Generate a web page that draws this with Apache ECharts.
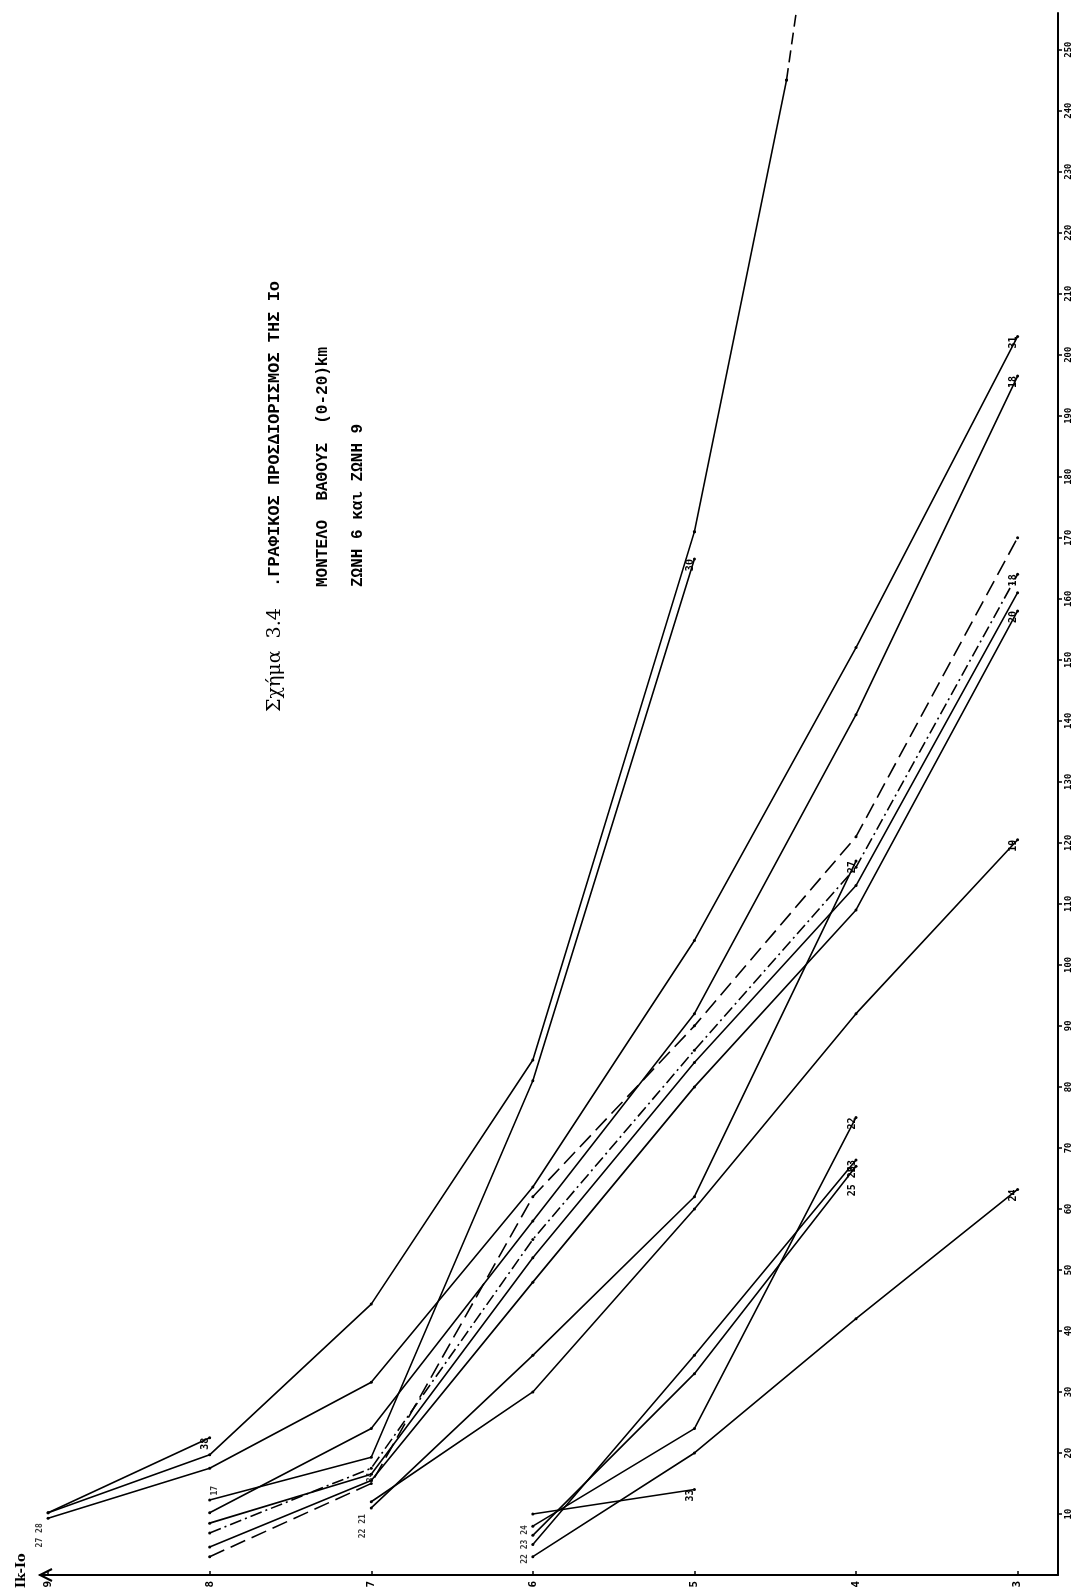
<!DOCTYPE html>
<html>
<head>
<meta charset="utf-8">
<script src="https://cdn.jsdelivr.net/npm/echarts@6/dist/echarts.min.js"></script>
<style>
  html, body { margin: 0; padding: 0; background: #fff; }
  #chart { width: 1078px; height: 1595px; }
</style>
</head>
<body>
<div id="chart"></div>
<script>
// Ik-Io (horizontal, inverted) against distance in km (vertical)
const intensityTicks = [3, 4, 5, 6, 7, 8, 9]
const distanceTicks = [10, 20, 30, 40, 50, 60, 70, 80, 90, 100, 110, 120, 130, 140, 150, 160, 170, 180, 190, 200, 210, 220, 230, 240, 250]

// one array per curve: [Ik-Io, distance km]
const curveLong = [[9, 10.2], [8, 19.7], [7, 44.4], [6, 84.4], [5, 171]]
const curveLongTail = [[5, 171], [4.43, 245]]
const curveLongEnd = [[4.43, 245], [4.36, 258]]
const curve30 = [[8, 12.3], [7, 19.3], [6, 81], [5, 166.5]]
const curve38 = [[9, 10.2], [8, 22.5]]
const curve31 = [[9, 9.3], [8, 17.5], [7, 31.6], [6, 63.6], [5, 104], [4, 152], [3, 203]]
const curve18 = [[8, 10.2], [7, 24], [6, 58], [5, 92], [4, 141], [3, 196.5]]
const curveDash = [[8, 3], [7, 15], [6, 62], [5, 90], [4, 121], [3, 170]]
const curve16 = [[8, 6.9], [7, 17.5], [6, 55], [5, 86], [4, 116], [3, 164]]
const curve26 = [[8, 8.5], [7, 16.5], [6, 52], [5, 84], [4, 113], [3, 161]]
const curve20 = [[8, 4.6], [7, 15.5], [6, 48], [5, 80], [4, 109], [3, 158]]
const curve19 = [[7, 12], [6, 30], [5, 60], [4, 92], [3, 120.5]]
const curve24 = [[6, 3], [5, 20], [4, 42], [3, 63.2]]
const curve17 = [[7, 11], [6, 36], [5, 62], [4, 117]]
const curve22 = [[6, 8], [5, 24], [4, 75]]
const curve23 = [[6, 5], [5, 36], [4, 68]]
const curve25 = [[6, 6.5], [5, 33], [4, 67]]
const curve33 = [[6, 10], [5, 14]]

// small curve numbers written next to the starting points
const startNames = [
  { value: [9.12, 11.5], name: '20' },
  { value: [9.05, 6.5], name: '27 28' },
  { value: [7.97, 13.8], name: '17' },
  { value: [7.0, 16], name: '34' },
  { value: [7.05, 8], name: '22 21' },
  { value: [6.05, 5], name: '22 23 24' }
]

const chartInstance = echarts.init(document.getElementById('chart'))

function line(name, data, style) {
  return {
    name: name,
    type: 'line',
    data: data,
    symbol: 'circle',
    symbolSize: 3,
    showSymbol: true,
    silent: true,
    itemStyle: { color: '#000' },
    lineStyle: { color: '#000', width: 1.6, type: style || 'solid' },
    endLabel: {
      show: !!name,
      formatter: name,
      rotate: 90,
      color: '#000',
      fontSize: 10,
      fontWeight: 'bold',
      fontFamily: 'DejaVu Sans Mono',
      distance: 4
    }
  }
}

const option = {
  animation: false,
  backgroundColor: '#fff',
  grid: { left: 40, right: 20, top: 13, bottom: 20, containLabel: false },
  xAxis: {
    type: 'value',
    inverse: true,
    min: 2.75,
    max: 9.05,
    splitLine: { show: false },
    axisLine: { show: true, lineStyle: { color: '#000', width: 2 } },
    axisTick: { show: true, inside: true, length: 4, customValues: intensityTicks, lineStyle: { color: '#000', width: 1.5 } },
    axisLabel: {
      customValues: intensityTicks,
      rotate: 90,
      margin: 6,
      color: '#000',
      fontSize: 11,
      fontWeight: 'bold',
      fontFamily: 'DejaVu Sans Mono'
    }
  },
  yAxis: {
    type: 'value',
    position: 'right',
    min: 0,
    max: 256,
    splitLine: { show: false },
    axisLine: { show: true, onZero: false, lineStyle: { color: '#000', width: 2 } },
    axisTick: { show: true, length: 4, customValues: distanceTicks, lineStyle: { color: '#000', width: 1.5 } },
    axisLabel: {
      customValues: distanceTicks,
      rotate: 90,
      margin: 6,
      color: '#000',
      fontSize: 9,
      fontWeight: 'bold',
      fontFamily: 'DejaVu Sans Mono'
    }
  },
  graphic: [
    { type: 'polyline', shape: { points: [[52, 1569], [40, 1575], [52, 1581]] },
      style: { stroke: '#000', lineWidth: 2, fill: null } },
    { type: 'text', x: 22, y: 1588, rotation: Math.PI / 2,
      style: { text: 'Ik-Io', fill: '#000', font: 'bold 13px "DejaVu Serif"', textAlign: 'left', textVerticalAlign: 'middle' } },
    { type: 'text', x: 275, y: 712, rotation: Math.PI / 2,
      style: { text: 'Σχήμα  3.4', fill: '#000', font: '19px "DejaVu Serif"', textAlign: 'left', textVerticalAlign: 'middle' } },
    { type: 'text', x: 275, y: 587, rotation: Math.PI / 2,
      style: { text: '.ΓΡΑΦΙΚΟΣ ΠΡΟΣΔΙΟΡΙΣΜΟΣ ΤΗΣ Ιο', fill: '#000', font: 'bold 17px "Liberation Mono"', textAlign: 'left', textVerticalAlign: 'middle' } },
    { type: 'text', x: 323, y: 587, rotation: Math.PI / 2,
      style: { text: 'ΜΟΝΤΕΛΟ  ΒΑΘΟΥΣ  (0-20)km', fill: '#000', font: 'bold 16px "Liberation Mono"', textAlign: 'left', textVerticalAlign: 'middle' } },
    { type: 'text', x: 358, y: 587, rotation: Math.PI / 2,
      style: { text: 'ΖΩΝΗ 6 και ΖΩΝΗ 9', fill: '#000', font: 'bold 16px "Liberation Mono"', textAlign: 'left', textVerticalAlign: 'middle' } }
  ],
  series: [
    line('', curveLong),
    line('', curveLongTail),
    line('', curveLongEnd, [12, 6]),
    line('30', curve30),
    line('38', curve38),
    line('31', curve31),
    line('18', curve18),
    line('', curveDash, [16, 7]),
    line('18', curve16, [12, 4, 2, 4]),
    line('', curve26),
    line('20', curve20),
    line('19', curve19),
    line('24', curve24),
    line('27', curve17),
    line('22', curve22),
    line('23', curve23),
    line('25 26', curve25),
    line('33', curve33),
    {
      type: 'scatter',
      data: startNames,
      symbolSize: 0,
      silent: true,
      label: {
        show: true,
        formatter: p => p.name,
        rotate: 90,
        color: '#000',
        fontSize: 8,
        fontWeight: 'bold',
        fontFamily: 'DejaVu Sans Mono'
      }
    }
  ]
}
chartInstance.setOption(option)
</script>
</body>
</html>
